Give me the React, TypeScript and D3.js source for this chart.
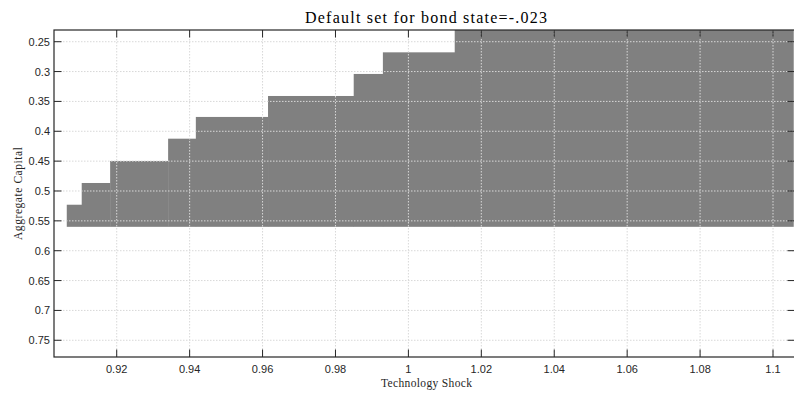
import React from "react";
import * as d3 from "d3";

// Default region: staircase of cells over (technology shock, aggregate capital)
const shockEdges = [0.9063, 0.9104, 0.9182, 0.9341, 0.9417, 0.9615, 0.985, 0.993, 1.0127, 1.1056];
const capitalTop = [0.523, 0.4866, 0.4497, 0.4124, 0.376, 0.3409, 0.304, 0.2678, 0.2304];
const capitalBottom = 0.56;

const xTicks = [0.92, 0.94, 0.96, 0.98, 1, 1.02, 1.04, 1.06, 1.08, 1.1];
const yTicks = [0.25, 0.3, 0.35, 0.4, 0.45, 0.5, 0.55, 0.6, 0.65, 0.7, 0.75];

const titleText = "Default set for bond state=-.023";
const xLabelText = "Technology Shock";
const yLabelText = "Aggregate Capital";

const W = 794;
const H = 394;
const M = { left: 54, top: 30, right: 795, bottom: 357 };

export default function App() {
  const x = d3.scaleLinear().domain([0.9028, 1.10603]).range([M.left, M.right]);
  const y = d3.scaleLinear().domain([0.2304, 0.778]).range([M.top, M.bottom]);
  const fmt = (v: number) => String(+v.toFixed(4));
  const axisColor = "#262626";
  const tickLen = 7.5;
  const serif = "Liberation Serif, Times New Roman, serif";
  const sans = "Liberation Sans, Arial, Helvetica, sans-serif";

  return (
    <svg
      width={W}
      height={H}
      style={{ position: "absolute", left: 0, top: 0, background: "#fff" }}
    >
      <defs>
        <clipPath id="plotClip">
          <rect x={M.left} y={M.top} width={M.right - M.left} height={M.bottom - M.top} />
        </clipPath>
      </defs>

      <g clipPath="url(#plotClip)">
        {capitalTop.map((top, i) => {
          const x0 = x(shockEdges[i]);
          const x1 = x(shockEdges[i + 1]);
          const y0 = y(top);
          const y1 = y(capitalBottom);
          return (
            <rect
              key={i}
              x={x0}
              y={y0}
              width={x1 - x0 + 0.3}
              height={y1 - y0}
              fill="#808080"
            />
          );
        })}

        {/* grid */}
        {xTicks.map((t) => (
          <line
            key={"gx" + t}
            x1={x(t)}
            x2={x(t)}
            y1={M.top}
            y2={M.bottom}
            stroke="#d8d8d8"
            strokeWidth={1}
            strokeDasharray="1.5 1.5"
          />
        ))}
        {yTicks.map((t) => (
          <line
            key={"gy" + t}
            x1={M.left}
            x2={M.right}
            y1={y(t)}
            y2={y(t)}
            stroke="#d8d8d8"
            strokeWidth={1}
            strokeDasharray="1.5 1.5"
          />
        ))}
      </g>

      {/* box */}
      <rect
        x={M.left}
        y={M.top}
        width={M.right - M.left}
        height={M.bottom - M.top}
        fill="none"
        stroke={axisColor}
        strokeWidth={1.2}
      />

      {/* x ticks */}
      {xTicks.map((t) => (
        <g key={"xt" + t}>
          <line x1={x(t)} x2={x(t)} y1={M.bottom} y2={M.bottom - tickLen} stroke={axisColor} strokeWidth={1} />
          <line x1={x(t)} x2={x(t)} y1={M.top} y2={M.top + tickLen} stroke={axisColor} strokeWidth={1} />
          <text
            x={x(t)}
            y={373}
            textAnchor="middle"
            fontFamily={sans}
            fontSize={11}
            fill={axisColor}
          >
            {fmt(t)}
          </text>
        </g>
      ))}

      {/* y ticks */}
      {yTicks.map((t) => (
        <g key={"yt" + t}>
          <line x1={M.left} x2={M.left + tickLen} y1={y(t)} y2={y(t)} stroke={axisColor} strokeWidth={1} />
          <line x1={M.right} x2={M.right - tickLen} y1={y(t)} y2={y(t)} stroke={axisColor} strokeWidth={1} />
          <text
            x={50}
            y={y(t)}
            dy="0.36em"
            textAnchor="end"
            fontFamily={sans}
            fontSize={11}
            fill={axisColor}
          >
            {fmt(t)}
          </text>
        </g>
      ))}

      {/* title and axis labels */}
      <text
        x={426}
        y={22.5}
        textAnchor="middle"
        fontFamily={serif}
        fontSize={16}
        fill="#000"
        textLength={242}
        lengthAdjust="spacing"
      >
        {titleText}
      </text>
      <text
        x={426.5}
        y={386.5}
        textAnchor="middle"
        fontFamily={serif}
        fontSize={11.5}
        fill="#262626"
        textLength={91}
        lengthAdjust="spacing"
      >
        {xLabelText}
      </text>
      <text
        transform={`translate(22, 193.5) rotate(-90)`}
        textAnchor="middle"
        fontFamily={serif}
        fontSize={11.5}
        fill="#262626"
        textLength={93}
        lengthAdjust="spacing"
      >
        {yLabelText}
      </text>
    </svg>
  );
}
